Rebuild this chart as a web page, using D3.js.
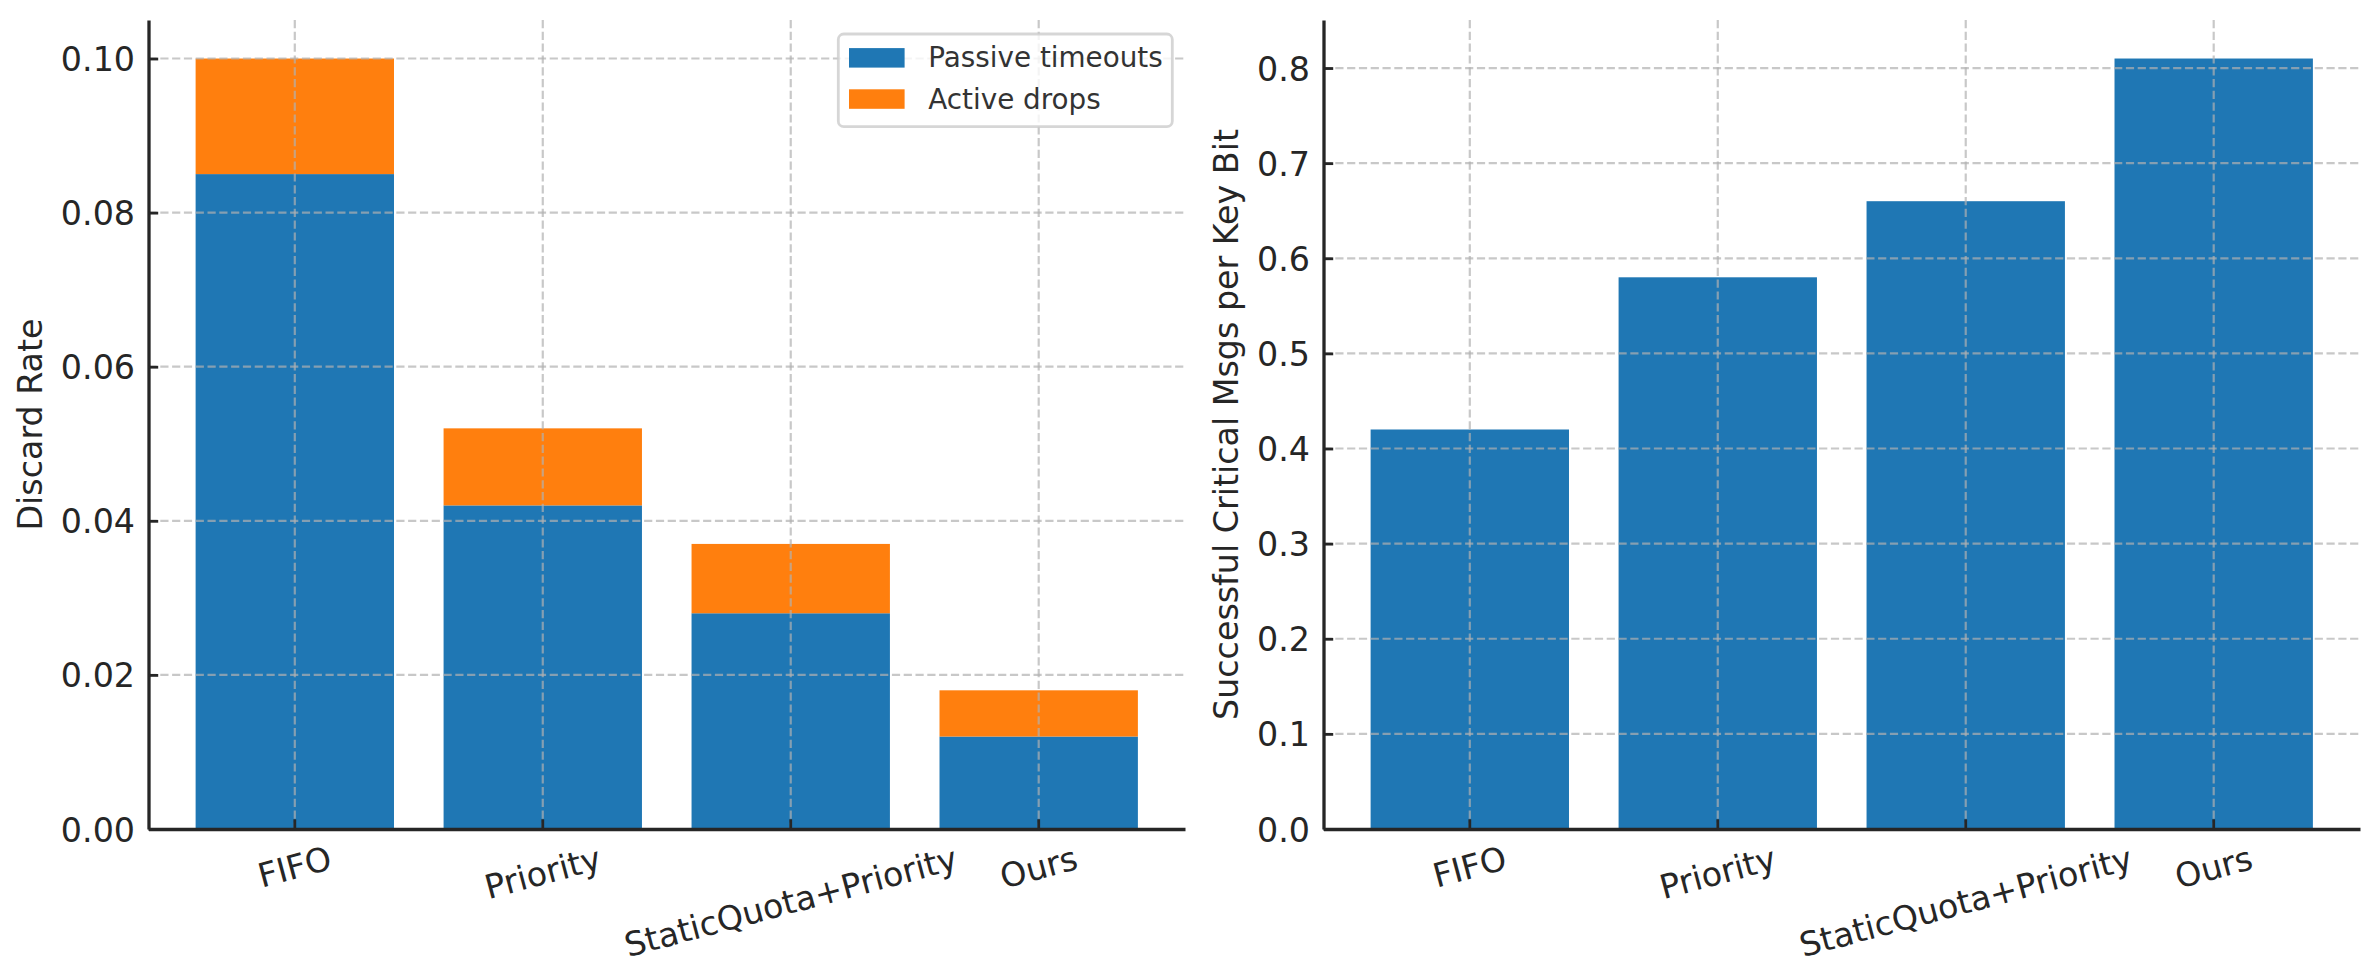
<!DOCTYPE html>
<html><head><meta charset="utf-8">
<script src="https://cdn.jsdelivr.net/npm/d3@7"></script>
<style>body{margin:0;background:#fff} text{font-family:"DejaVu Sans",sans-serif}</style>
</head><body><svg id="chart" width="2379" height="980"></svg>
<script>
const categories = ["FIFO", "Priority", "StaticQuota+Priority", "Ours"];
const seriesNames = ["Passive timeouts", "Active drops"];
const passiveTimeouts = [0.085, 0.042, 0.028, 0.012];
const activeDrops = [0.015, 0.010, 0.009, 0.006];
const criticalMsgsPerKeyBit = [0.42, 0.58, 0.66, 0.81];
const discardTicks = [0, 0.02, 0.04, 0.06, 0.08, 0.10];
const criticalTicks = [0, 0.1, 0.2, 0.3, 0.4, 0.5, 0.6, 0.7, 0.8];
const leftYLabel = "Discard Rate";
const rightYLabel = "Successful Critical Msgs per Key Bit";

const W = 2379, H = 980;
const TOP = 20, BOTTOM = 829;
const FS = 33.3, LFS = 27.8;
const INK = "#262626";
const BLUE = "#1f77b4", ORANGE = "#ff7f0e";
const svg = d3.select("#chart");
svg.append("rect").attr("width", W).attr("height", H).attr("fill", "#fff");

function panel(x0, x1, yMax, ticks, fmt, label, drawBars) {
  const g = svg.append("g");
  const x = d3.scaleBand().domain(categories).range([x0, x1]).paddingInner(0.2).paddingOuter(0.19);
  const y = d3.scaleLinear().domain([0, yMax]).range([BOTTOM, TOP]);
  drawBars(g, x, y);

  const gridStyle = s => s.attr("stroke", "#b0b0b0").attr("stroke-opacity", 0.7)
    .attr("stroke-width", 2.2).attr("stroke-dasharray", "8.2,3.6");
  const gh = g.append("g").call(gridStyle);
  gh.selectAll("line").data(ticks).join("line")
    .attr("x1", x0).attr("x2", x1).attr("y1", d => y(d)).attr("y2", d => y(d));
  const gv = g.append("g").call(gridStyle);
  gv.selectAll("line").data(categories).join("line")
    .attr("x1", d => x(d) + x.bandwidth() / 2).attr("x2", d => x(d) + x.bandwidth() / 2)
    .attr("y1", TOP).attr("y2", BOTTOM);

  // y axis
  const ya = g.append("g").attr("transform", `translate(${x0},0)`)
    .call(d3.axisLeft(y).tickValues(ticks).tickFormat(d3.format(fmt))
      .tickSizeInner(-9.7).tickSizeOuter(0).tickPadding(13.5));
  ya.attr("font-family", "DejaVu Sans").attr("font-size", FS);
  ya.select(".domain").attr("stroke", INK).attr("stroke-width", 3.3);
  ya.selectAll(".tick line").attr("stroke", INK).attr("stroke-width", 2.8);
  ya.selectAll(".tick text").attr("fill", INK).attr("dy", "0.36em");

  // x axis
  const xa = g.append("g").attr("transform", `translate(0,${BOTTOM})`)
    .call(d3.axisBottom(x).tickSizeInner(-9.7).tickSizeOuter(0).tickFormat(""));
  xa.select(".domain").attr("stroke", INK).attr("stroke-width", 3.3);
  xa.selectAll(".tick line").attr("stroke", INK).attr("stroke-width", 2.8);
  xa.selectAll(".tick text").remove();

  const rot = 15 * Math.PI / 180;
  categories.forEach(c => {
    const t = g.append("text").text(c).attr("font-size", FS).attr("fill", INK)
      .attr("text-anchor", "middle").attr("dominant-baseline", "central");
    const w = t.node().getComputedTextLength();
    const hb = w * Math.sin(rot) + 1.164 * FS * Math.cos(rot);
    t.attr("transform", `translate(${x(c) + x.bandwidth() / 2},${BOTTOM + 9.7 + hb / 2}) rotate(-15)`);
  });

  // y label
  let minLeft = Infinity;
  ya.selectAll(".tick text").each(function () { const b = this.getBBox(); minLeft = Math.min(minLeft, x0 + b.x); });
  g.append("text").text(label).attr("font-size", FS).attr("fill", INK).attr("text-anchor", "middle")
    .attr("transform", `translate(${minLeft - 11.1 - 0.236 * FS},${(TOP + BOTTOM) / 2}) rotate(-90)`);
  return { g, x, y };
}

panel(148.5, 1185, 0.105, discardTicks, ".2f", leftYLabel, (g, x, y) => {
  g.append("g").selectAll("rect").data(categories).join("rect")
    .attr("x", d => x(d)).attr("width", x.bandwidth())
    .attr("y", (d, i) => y(passiveTimeouts[i])).attr("height", (d, i) => y(0) - y(passiveTimeouts[i]))
    .attr("fill", BLUE);
  g.append("g").selectAll("rect").data(categories).join("rect")
    .attr("x", d => x(d)).attr("width", x.bandwidth())
    .attr("y", (d, i) => y(passiveTimeouts[i] + activeDrops[i]))
    .attr("height", (d, i) => y(passiveTimeouts[i]) - y(passiveTimeouts[i] + activeDrops[i]))
    .attr("fill", ORANGE);
});

panel(1323.5, 2360, 0.8505, criticalTicks, ".1f", rightYLabel, (g, x, y) => {
  g.append("g").selectAll("rect").data(categories).join("rect")
    .attr("x", d => x(d)).attr("width", x.bandwidth())
    .attr("y", (d, i) => y(criticalMsgsPerKeyBit[i])).attr("height", (d, i) => y(0) - y(criticalMsgsPerKeyBit[i]))
    .attr("fill", BLUE);
});

// legend
const lg = svg.append("g");
lg.append("rect").attr("x", 838.3).attr("y", 34).attr("width", 334).attr("height", 92.7).attr("rx", 5.5)
  .attr("fill", "#fff").attr("fill-opacity", 0.8).attr("stroke", "#cccccc").attr("stroke-opacity", 0.8).attr("stroke-width", 2.78);
const legendColors = [BLUE, ORANGE];
seriesNames.forEach((s, i) => {
  const cy = 57.8 + i * 41.2;
  lg.append("rect").attr("x", 849).attr("y", cy - 9.7).attr("width", 55.6).attr("height", 19.5).attr("fill", legendColors[i]);
  lg.append("text").text(s).attr("x", 928.3).attr("y", cy + 9.5).attr("font-size", LFS).attr("fill", "#333");
});
</script></body></html>
